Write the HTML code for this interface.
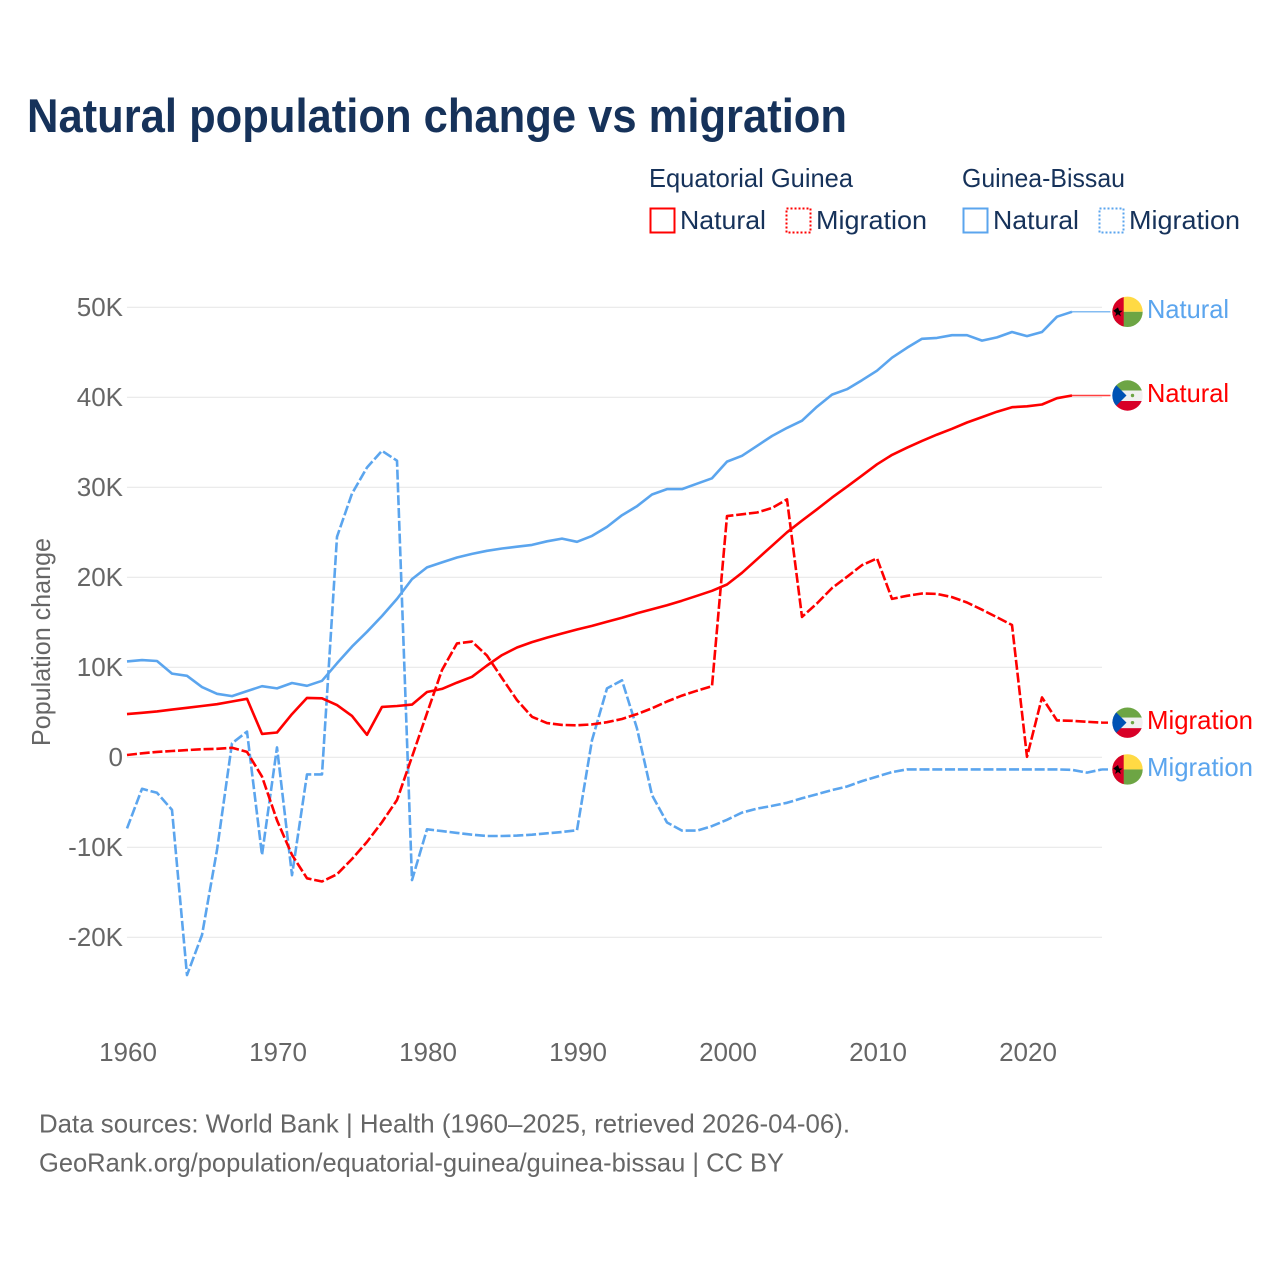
<!DOCTYPE html>
<html lang="en">
<head>
<meta charset="utf-8">
<title>Natural population change vs migration</title>
<style>
html,body{margin:0;padding:0;background:#fff;}
svg{display:block;font-family:"Liberation Sans",sans-serif;}
</style>
</head>
<body>
<svg id="chart" xmlns="http://www.w3.org/2000/svg" width="1280" height="1280" viewBox="0 0 1280 1280">
  <defs>
    <clipPath id="flag-clip"><circle cx="0" cy="0" r="15.2"></circle></clipPath>
    <g id="flag-gb" clip-path="url(#flag-clip)">
      <rect x="-16" y="-16" width="32" height="16" fill="#ffda44"></rect>
      <rect x="-16" y="0" width="32" height="16" fill="#6da544"></rect>
      <rect x="-16" y="-16" width="12.2" height="32" fill="#d80027"></rect>
      <polygon points="-9.5,-4.4 -8.3,-1 -4.8,-1 -7.6,1.2 -6.6,4.6 -9.5,2.5 -12.4,4.6 -11.4,1.2 -14.2,-1" fill="#000"></polygon>
    </g>
    <g id="flag-eg" clip-path="url(#flag-clip)">
      <rect x="-16" y="-16" width="32" height="11" fill="#6da544"></rect>
      <rect x="-16" y="-5" width="32" height="10.5" fill="#f0f0f0"></rect>
      <rect x="-16" y="5.5" width="32" height="11" fill="#d80027"></rect>
      <polygon points="-1,0 -16,-15 -16,15" fill="#0052b4"></polygon>
      <circle cx="5" cy="0" r="1.7" fill="#6da544"></circle>
    </g>
  </defs>

  <text x="27" y="132" font-size="47" font-weight="700" fill="#16325a" textLength="820" lengthAdjust="spacingAndGlyphs">Natural population change vs migration</text>

  <g font-size="26" fill="#16325a">
    <text x="649" y="187" textLength="204" lengthAdjust="spacingAndGlyphs">Equatorial Guinea</text>
    <text x="962" y="187" textLength="163" lengthAdjust="spacingAndGlyphs">Guinea-Bissau</text>
    <rect x="650.5" y="208.5" width="24" height="24" fill="none" stroke="#ff0000" stroke-width="2"></rect>
    <text x="680" y="229" textLength="86" lengthAdjust="spacingAndGlyphs">Natural</text>
    <rect x="786.5" y="208.5" width="24" height="24" fill="none" stroke="#ff0000" stroke-width="2" stroke-dasharray="2 2"></rect>
    <text x="816" y="229" textLength="111" lengthAdjust="spacingAndGlyphs">Migration</text>
    <rect x="963.5" y="208.5" width="24" height="24" fill="none" stroke="#5ba5ee" stroke-width="2"></rect>
    <text x="993" y="229" textLength="86" lengthAdjust="spacingAndGlyphs">Natural</text>
    <rect x="1099.5" y="208.5" width="24" height="24" fill="none" stroke="#5ba5ee" stroke-width="2" stroke-dasharray="2 2"></rect>
    <text x="1129" y="229" textLength="111" lengthAdjust="spacingAndGlyphs">Migration</text>
  </g>

  <g id="grid"></g>
  <g id="y-ticks" font-size="26" fill="#666666" text-anchor="end"></g>
  <g id="x-ticks" font-size="26" fill="#666666" text-anchor="middle"></g>
  <text transform="translate(50,642) rotate(-90)" font-size="26" fill="#666666" text-anchor="middle" textLength="208" lengthAdjust="spacingAndGlyphs">Population change</text>
  <g id="series" fill="none"></g>
  <g id="end-labels" font-size="26"></g>

  <text x="39" y="1132.5" font-size="26" fill="#666666" textLength="811" lengthAdjust="spacingAndGlyphs">Data sources: World Bank | Health (1960–2025, retrieved 2026-04-06).</text>
  <text x="39" y="1171.5" font-size="26" fill="#666666" textLength="745" lengthAdjust="spacingAndGlyphs">GeoRank.org/population/equatorial-guinea/guinea-bissau | CC BY</text>
</svg>
<script>
const years = [1960,1961,1962,1963,1964,1965,1966,1967,1968,1969,1970,1971,1972,1973,1974,1975,1976,1977,1978,1979,1980,1981,1982,1983,1984,1985,1986,1987,1988,1989,1990,1991,1992,1993,1994,1995,1996,1997,1998,1999,2000,2001,2002,2003,2004,2005,2006,2007,2008,2009,2010,2011,2012,2013,2014,2015,2016,2017,2018,2019,2020,2021,2022,2023,2024,2025];
const egNatural = [4.8,4.95,5.1,5.3,5.5,5.7,5.9,6.2,6.5,2.6,2.75,4.8,6.6,6.55,5.8,4.6,2.5,5.6,5.7,5.85,7.25,7.6,8.3,8.95,10.2,11.35,12.2,12.8,13.3,13.75,14.2,14.6,15.07,15.5,16,16.45,16.9,17.4,17.95,18.5,19.2,20.5,22,23.5,25,26.3,27.55,28.85,30.07,31.3,32.55,33.6,34.4,35.15,35.85,36.5,37.2,37.8,38.4,38.9,39,39.2,39.9,40.2];
const egMigration = [0.25,0.45,0.6,0.7,0.8,0.9,0.95,1.05,0.6,-2.15,-7,-10.85,-13.45,-13.8,-13,-11.3,-9.4,-7.2,-4.75,0.05,4.9,9.7,12.65,12.85,11.3,8.8,6.35,4.5,3.8,3.6,3.55,3.65,3.9,4.25,4.8,5.45,6.2,6.85,7.4,7.9,26.8,27,27.2,27.7,28.65,15.6,17.1,18.8,20.05,21.35,22.1,17.6,17.95,18.2,18.15,17.8,17.2,16.4,15.55,14.7,0.05,6.65,4.1,4.05,3.95,3.85];
const gbNatural = [10.65,10.8,10.7,9.3,9.05,7.8,7.05,6.8,7.35,7.9,7.65,8.25,7.95,8.5,10.45,12.3,13.95,15.7,17.6,19.8,21.1,21.65,22.2,22.6,22.95,23.2,23.4,23.6,24,24.3,23.95,24.6,25.6,26.9,27.9,29.2,29.8,29.8,30.4,31,32.85,33.5,34.6,35.7,36.6,37.4,38.95,40.3,40.9,41.9,42.95,44.4,45.5,46.5,46.6,46.9,46.9,46.3,46.65,47.25,46.8,47.25,48.95,49.5];
const gbMigration = [-7.9,-3.5,-3.95,-5.85,-24.2,-19.75,-10.3,1.55,2.85,-10.85,1.1,-13.1,-1.9,-1.9,24.5,29.3,32.2,34.05,32.95,-13.65,-8,-8.2,-8.4,-8.6,-8.75,-8.75,-8.7,-8.6,-8.45,-8.3,-8.1,1.9,7.65,8.55,3.2,-4.2,-7.25,-8.15,-8.15,-7.65,-6.95,-6.15,-5.7,-5.4,-5.05,-4.55,-4.1,-3.65,-3.25,-2.65,-2.15,-1.65,-1.35,-1.35,-1.35,-1.35,-1.35,-1.35,-1.35,-1.35,-1.35,-1.35,-1.35,-1.4,-1.7,-1.35];
const yTickValues = [-20,-10,0,10,20,30,40,50];
const yTickLabels = ['-20K','-10K','0','10K','20K','30K','40K','50K'];
const xTickYears = [1960,1970,1980,1990,2000,2010,2020];
const xTickLabels = ['1960','1970','1980','1990','2000','2010','2020'];

const NS = 'http://www.w3.org/2000/svg';
const RED = '#ff0000';
const BLUE = '#5ba5ee';
const plotLeft = 127;
const plotRight = 1102;
const flagX = 1127.5;

function xScale(year) { return plotLeft + (year - 1960) * 15; }
function yScale(value) { return 757.3 - value * 9; }

function make(tag, attrs, parent) {
  const el = document.createElementNS(NS, tag);
  for (const k in attrs) el.setAttribute(k, attrs[k]);
  parent.appendChild(el);
  return el;
}

const gridGroup = document.getElementById('grid');
const yTickGroup = document.getElementById('y-ticks');
yTickValues.forEach(function (v, i) {
  const line = make('line', {x1: plotLeft, x2: plotRight, y1: yScale(v), y2: yScale(v), stroke: '#e8e8e8', 'stroke-width': 1.2}, gridGroup);
  
  
  const label = make('text', {x: 123, y: yScale(v) + 8.7}, yTickGroup);
  label.textContent = yTickLabels[i];
  
  
});

const xTickGroup = document.getElementById('x-ticks');
xTickYears.forEach(function (yr, i) {
  const label = make('text', {x: xScale(yr) + 1, y: 1061}, xTickGroup);
  label.textContent = xTickLabels[i];
  
  
});

const seriesGroup = document.getElementById('series');
const labelGroup = document.getElementById('end-labels');

function drawSeries(values, color, dashed, flag, text, seriesName) {
  const pts = values.map(function (v, i) { return xScale(years[i]).toFixed(1) + ',' + yScale(v).toFixed(1); }).join(' ');
  const attrs = {points: pts, stroke: color, 'stroke-width': 2.6, 'stroke-linejoin': 'round'};
  if (dashed) attrs['stroke-dasharray'] = '10 2.8';
  const line = make('polyline', attrs, seriesGroup);
  
  

  const lastIdx = values.length - 1;
  const endY = yScale(values[lastIdx]);
  const connAttrs = {x1: xScale(years[lastIdx]), x2: flagX - 17, y1: endY, y2: endY, stroke: color, 'stroke-width': dashed ? 2.4 : 1.5, 'stroke-opacity': dashed ? 1 : 0.75};
  if (dashed) connAttrs['stroke-dasharray'] = '6 2.8';
  const conn = make('line', connAttrs, seriesGroup);
  
  

  const icon = make('use', {href: flag, transform: 'translate(' + flagX + ',' + endY + ')'}, labelGroup);
  
  

  const lbl = make('text', {x: 1147, y: endY + 6.3, fill: color, textLength: text === 'Natural' ? 82 : 106, lengthAdjust: 'spacingAndGlyphs'}, labelGroup);
  lbl.textContent = text;
  
  
}

drawSeries(gbMigration, BLUE, true, '#flag-gb', 'Migration', 'line-guinea-bissau-migration');
drawSeries(egMigration, RED, true, '#flag-eg', 'Migration', 'line-equatorial-guinea-migration');
drawSeries(gbNatural, BLUE, false, '#flag-gb', 'Natural', 'line-guinea-bissau-natural');
drawSeries(egNatural, RED, false, '#flag-eg', 'Natural', 'line-equatorial-guinea-natural');
</script>
</body>
</html>
